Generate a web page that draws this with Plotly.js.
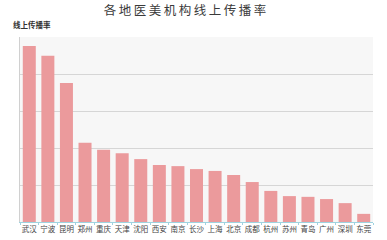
<!DOCTYPE html>
<html><head><meta charset="utf-8">
<script src="https://cdn.plot.ly/plotly-3.0.1.min.js"></script>
<style>html,body{margin:0;padding:0;background:#fff;}#c{width:387px;height:240px;}</style>
</head><body><div id="c"></div>
<script>
const categories = ['武汉','宁波','昆明','郑州','重庆','天津','沈阳','西安','南京','长沙','上海','北京','成都','杭州','苏州','青岛','广州','深圳','东莞'];
const values = [4.76,4.49,3.76,2.14,1.95,1.86,1.70,1.54,1.51,1.43,1.38,1.27,1.08,0.84,0.70,0.68,0.62,0.51,0.22];
const yTicks = [0,1,2,3,4,5];
const titleText = '各地医美机构线上传播率';

Plotly.newPlot('c', [{
  type: 'bar', x: categories, y: values,
  marker: {color: '#eb9a9c', line: {width: 0}},
  hoverinfo: 'none'
}], {
  width: 387, height: 240,
  margin: {l: 20, r: 14, t: 37, b: 18, pad: 0},
  paper_bgcolor: '#ffffff', plot_bgcolor: '#f7f7f7',
  bargap: 0.3,
  showlegend: false,
  font: {family: '"Noto Sans CJK SC", sans-serif', color: '#333'},
  title: {text: titleText.split('').join('\u2009'), x: 0.478, xanchor: 'center', y: 0.955, yanchor: 'middle',
          font: {size: 12.5, color: '#3a3a3a'}},
  xaxis: {type: 'category', tickangle: 0, tickfont: {size: 7.5, color: '#444'}, showline: true, linecolor: '#9fd3e0', linewidth: 1,
          ticks: 'outside', tickson: 'boundaries', ticklen: 2, tickcolor: '#9fd3e0', showgrid: false, automargin: false},
  yaxis: {range: [0, 5], tickvals: yTicks, showticklabels: false, showgrid: true, gridcolor: '#d6d6d6', gridwidth: 1,
          showline: true, linecolor: '#d0d0d0', zeroline: false, ticks: ''},
  annotations: [{text: '<b>线上传播率</b>', xref: 'paper', yref: 'paper', x: -0.025, y: 1.0, xanchor: 'left', yanchor: 'bottom',
                 yshift: 5, showarrow: false, font: {size: 7.5, color: '#333'}}]
}, {staticPlot: true});
</script></body></html>
